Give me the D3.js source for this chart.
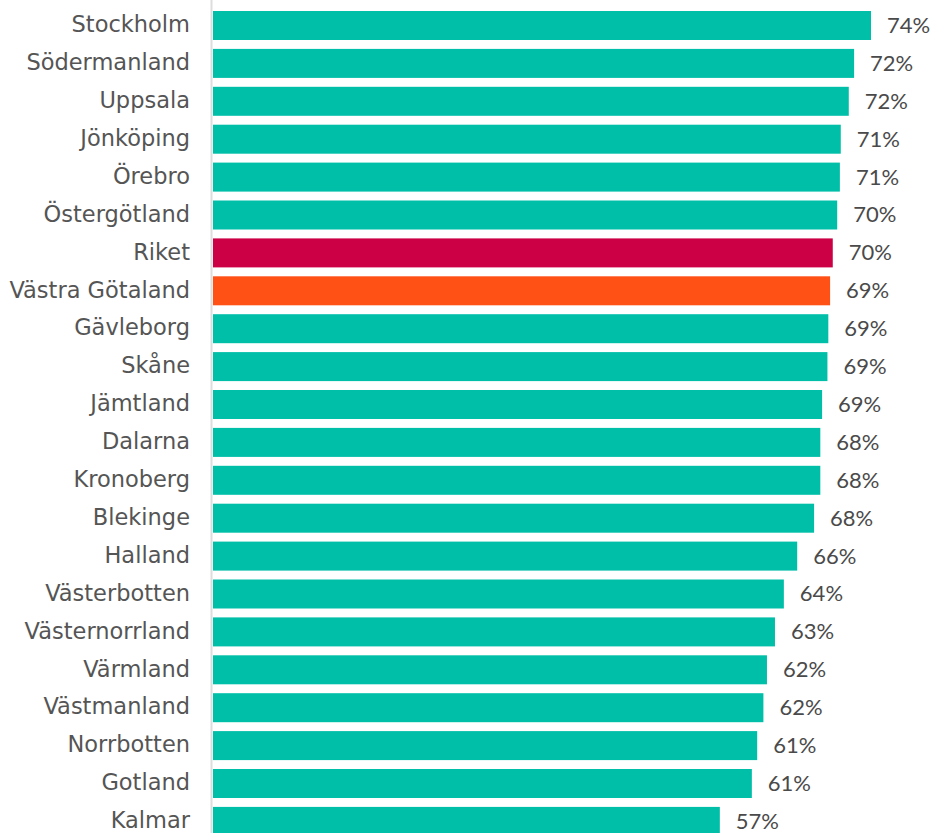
<!DOCTYPE html>
<html>
<head>
<meta charset="utf-8">
<script src="https://cdn.jsdelivr.net/npm/d3@7"></script>
<style>
  body { margin: 0; background: #fff; }
  svg { display: block; }
</style>
</head>
<body>
<svg id="chart"></svg>
<script>
const regions = ["Stockholm", "Södermanland", "Uppsala", "Jönköping", "Örebro", "Östergötland",
  "Riket", "Västra Götaland", "Gävleborg", "Skåne", "Jämtland", "Dalarna", "Kronoberg",
  "Blekinge", "Halland", "Västerbotten", "Västernorrland", "Värmland", "Västmanland",
  "Norrbotten", "Gotland", "Kalmar"];
const values = [74.0, 72.1, 71.5, 70.6, 70.5, 70.2, 69.7, 69.4, 69.2, 69.1, 68.5, 68.3, 68.3,
  67.6, 65.7, 64.2, 63.2, 62.3, 61.9, 61.2, 60.6, 57.0];
const highlight = { "Riket": "#cc0044", "Västra Götaland": "#ff5016" };

const width = 933, height = 833;
const data = regions.map((r, i) => ({ region: r, value: values[i] }));

const svg = d3.select("#chart").attr("width", width).attr("height", height);

const step = 37.9;
const y = d3.scaleBand()
  .domain(regions)
  .range([11 - 4.45, 11 - 4.45 + regions.length * step])
  .paddingInner(0.235)
  .paddingOuter(0.1175);

const x = d3.scaleLinear().domain([0, 74]).range([213, 871]);

// bars
svg.append("g")
  .selectAll("rect")
  .data(data)
  .join("rect")
  .attr("x", x(0))
  .attr("y", d => y(d.region))
  .attr("width", d => x(d.value) - x(0))
  .attr("height", y.bandwidth())
  .attr("fill", d => highlight[d.region] || "#00bfa8");

// axis line
svg.append("line")
  .attr("x1", x(0) - 1.5).attr("x2", x(0) - 1.5)
  .attr("y1", 0).attr("y2", height)
  .attr("stroke", "#dddddd")
  .attr("stroke-width", 2);

// category labels
svg.append("g")
  .selectAll("text")
  .data(data)
  .join("text")
  .attr("x", 190)
  .attr("y", d => y(d.region) + y.bandwidth() / 2)
  .attr("dy", "0.3em")
  .attr("text-anchor", "end")
  .attr("fill", "#555")
  .style("font-family", "'DejaVu Sans', sans-serif")
  .style("font-size", "22.5px")
  .text(d => d.region);

// value labels
svg.append("g")
  .selectAll("text")
  .data(data)
  .join("text")
  .attr("x", d => x(d.value) + 16)
  .attr("y", d => y(d.region) + y.bandwidth() / 2)
  .attr("dy", "0.34em")
  .attr("fill", "#4a4a4a")
  .style("font-family", "Lato, sans-serif")
  .style("font-size", "22px")
  .text(d => Math.round(d.value) + "%");
</script>
</body>
</html>
